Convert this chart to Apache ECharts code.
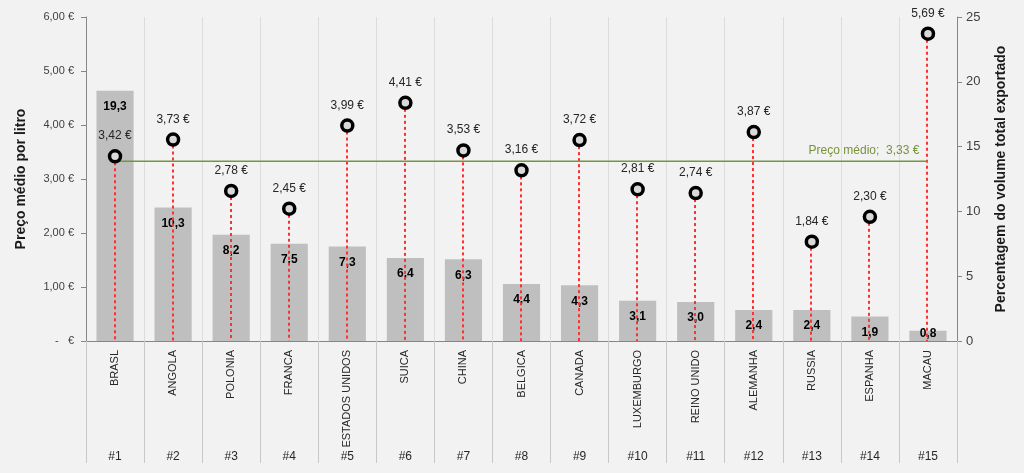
<!DOCTYPE html>
<html>
<head>
<meta charset="utf-8">
<script src="https://cdn.jsdelivr.net/npm/echarts@6/dist/echarts.min.js"></script>
<style>
  html, body { margin: 0; padding: 0; background: #f2f2f2; }
  #chart { width: 1024px; height: 473px; }
</style>
</head>
<body>
<div id="chart"></div>
<script>
  // dados
  var paises = ['BRASL', 'ANGOLA', 'POLONIA', 'FRANCA', 'ESTADOS UNIDOS', 'SUICA', 'CHINA', 'BELGICA',
    'CANADA', 'LUXEMBURGO', 'REINO UNIDO', 'ALEMANHA', 'RUSSIA', 'ESPANHA', 'MACAU']
  var ranking = ['#1', '#2', '#3', '#4', '#5', '#6', '#7', '#8', '#9', '#10', '#11', '#12', '#13', '#14', '#15']
  var percVolume = [19.3, 10.3, 8.2, 7.5, 7.3, 6.4, 6.3, 4.4, 4.3, 3.1, 3.0, 2.4, 2.4, 1.9, 0.8]
  var precoLitro = [3.42, 3.73, 2.78, 2.45, 3.99, 4.41, 3.53, 3.16, 3.72, 2.81, 2.74, 3.87, 1.84, 2.30, 5.69]
  var precoMedio = 3.33

  function euro(v) {
    return v.toFixed(2).replace('.', ',') + ' €'
  }

  var font = 'Liberation Sans'
  var vermelho = '#ff3030'

  var barData = percVolume.map(function (v) {
    if (v < 1.5) {
      return { value: v, label: { position: 'top', distance: -9 } }
    }
    return v
  })

  var mediaData = paises.map(function () { return precoMedio })

  // linhas verticais tracejadas do ponto até ao eixo
  var dropData = precoLitro.map(function (v, i) { return [i, v] })

  var myChart = echarts.init(document.getElementById('chart'))
  myChart.setOption({
    backgroundColor: '#f2f2f2',
    animation: false,
    grid: { left: 86, right: 67, top: 17, bottom: 132 },
    xAxis: [
      {
        type: 'category',
        data: paises,
        axisLine: { lineStyle: { color: '#868686', width: 1 } },
        axisTick: { show: true, length: 122, lineStyle: { color: '#c8c8c8' } },
        splitLine: { show: true, lineStyle: { color: '#dcdcdc' } },
        axisLabel: { rotate: 90, margin: 9, color: '#262626', fontSize: 11, fontFamily: font }
      },
      {
        type: 'category',
        data: ranking,
        position: 'bottom',
        axisLine: { show: false },
        axisTick: { show: false },
        axisLabel: { margin: 110, color: '#262626', fontSize: 12, fontFamily: font }
      }
    ],
    yAxis: [
      {
        type: 'value',
        min: 0,
        max: 6,
        interval: 1,
        name: 'Preço médio por litro',
        nameLocation: 'middle',
        nameRotate: 90,
        nameGap: 58,
        nameTextStyle: { fontWeight: 'bold', fontSize: 14, color: '#1a1a1a', fontFamily: font },
        axisLine: { show: true, lineStyle: { color: '#868686' } },
        axisTick: { show: true, length: 5, lineStyle: { color: '#868686' } },
        splitLine: { show: false },
        axisLabel: {
          margin: 12, color: '#404040', fontSize: 11, fontFamily: font,
          formatter: function (v) { return v === 0 ? '-   €' : euro(v) }
        }
      },
      {
        type: 'value',
        min: 0,
        max: 25,
        interval: 5,
        position: 'right',
        name: 'Percentagem do volume total exportado',
        nameLocation: 'middle',
        nameRotate: 90,
        nameGap: 37,
        nameTextStyle: { fontWeight: 'bold', fontSize: 14, color: '#1a1a1a', fontFamily: font },
        axisLine: { show: true, lineStyle: { color: '#868686' } },
        axisTick: { show: true, length: 5, lineStyle: { color: '#868686' } },
        splitLine: { show: false },
        axisLabel: { margin: 9, color: '#404040', fontSize: 13, fontFamily: font }
      }
    ],
    series: [
      {
        name: 'Percentagem',
        type: 'bar',
        xAxisIndex: 0,
        yAxisIndex: 1,
        barCategoryGap: '36%',
        itemStyle: { color: '#bfbfbf' },
        label: {
          show: true,
          position: 'insideTop',
          distance: 10,
          color: '#000',
          fontWeight: 'bold',
          fontSize: 12,
          fontFamily: font,
          formatter: function (p) { return p.value.toFixed(1).replace('.', ',') }
        },
        data: barData,
        z: 1
      },
      {
        name: 'Linhas',
        type: 'custom',
        xAxisIndex: 0,
        yAxisIndex: 0,
        silent: true,
        data: dropData,
        renderItem: function (params, api) {
          var topo = api.coord([api.value(0), api.value(1)])
          var base = api.coord([api.value(0), 0])
          var x = 2 * Math.floor(topo[0] / 2) + 1
          return {
            type: 'line',
            shape: { x1: x, y1: topo[1], x2: x, y2: base[1] },
            style: { stroke: vermelho, lineWidth: 2, lineDash: [3, 3] }
          }
        },
        z: 2
      },
      {
        name: 'Preço médio',
        type: 'line',
        xAxisIndex: 0,
        yAxisIndex: 0,
        symbol: 'none',
        lineStyle: { color: '#77933c', width: 1.5 },
        data: mediaData,
        markPoint: {
          silent: true,
          symbol: 'circle',
          symbolSize: 1,
          itemStyle: { color: 'rgba(0,0,0,0)' },
          label: {
            show: true,
            position: 'top',
            offset: [-64, 0],
            distance: 4,
            color: '#77933c',
            fontSize: 12,
            fontFamily: font,
            formatter: function () { return 'Preço médio;  ' + euro(precoMedio) }
          },
          data: [{ coord: [paises.length - 1, precoMedio] }]
        },
        z: 3
      },
      {
        name: 'Preço',
        type: 'scatter',
        xAxisIndex: 0,
        yAxisIndex: 0,
        symbol: 'circle',
        symbolSize: 11,
        itemStyle: { color: '#d9d9d9', borderColor: '#000', borderWidth: 3.5, opacity: 1 },
        label: {
          show: true,
          position: 'top',
          distance: 7,
          color: '#262626',
          fontSize: 12,
          fontFamily: font,
          formatter: function (p) { return euro(p.value) }
        },
        data: precoLitro,
        z: 4
      }
    ]
  })
</script>
</body>
</html>
